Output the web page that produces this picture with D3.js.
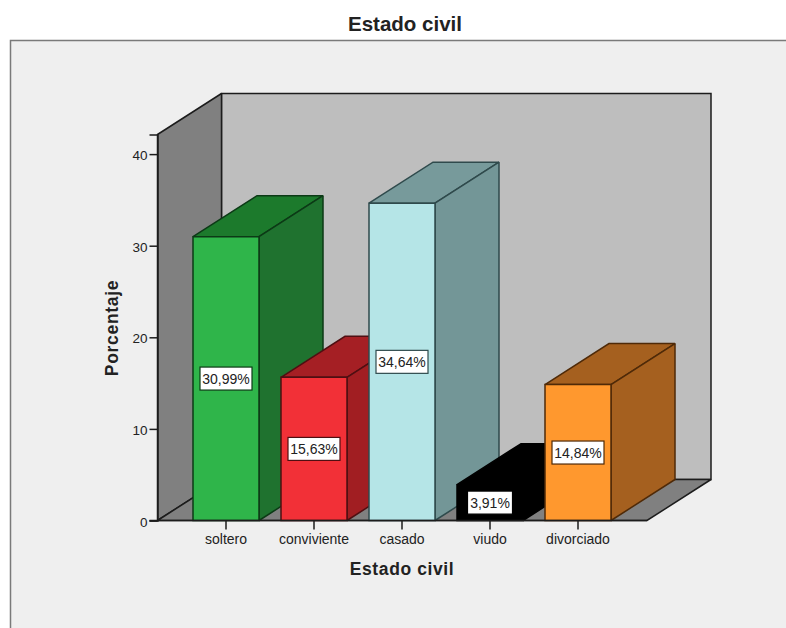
<!DOCTYPE html>
<html>
<head>
<meta charset="utf-8">
<script src="https://cdn.jsdelivr.net/npm/d3@7/dist/d3.min.js"></script>
<style>
html, body { margin: 0; padding: 0; background: #fff; }
svg { display: block; }
text { font-family: "Liberation Sans", Arial, sans-serif; fill: #222; }
</style>
</head>
<body>
<svg id="chart" width="786" height="628"></svg>
<script>
// Values
const categories = ["soltero", "conviviente", "casado", "viudo", "divorciado"];
const percentages = [30.99, 15.63, 34.64, 3.91, 14.84];
const valueLabels = ["30,99%", "15,63%", "34,64%", "3,91%", "14,84%"];
const yTicks = [0, 10, 20, 30, 40];

// Face colours for each bar
const frontColors = ["#2fb54a", "#f23037", "#b5e5e7", "#000000", "#ff982e"];
const topColors = ["#1c7a2c", "#a51f24", "#779a9b", "#000000", "#a5601f"];
const sideColors = ["#1f722f", "#a11e22", "#739697", "#000000", "#a5601f"];
const edgeColors = ["#0c3a16", "#4f0f12", "#2f4a4c", "#000000", "#4f2a08"];

const svg = d3.select("#chart");
const W = 786, H = 628;

// Oblique projection of the box: depth shifts right and up
const depth = { dx: 64, dy: -41 };
const plot = { left: 157.5, right: 647, base: 520.5, top: 134.5 };

const x = d3.scaleBand().domain(categories).range([182, 622])
  .paddingInner(0.25).paddingOuter(0.125);
const y = d3.scaleLinear().domain([0, 42.14]).range([plot.base, plot.top]);

const poly = (pts, fill, stroke, sw = 1.5) => svg.append("polygon")
  .attr("points", pts.map(p => p.join(",")).join(" "))
  .attr("fill", fill).attr("stroke", stroke)
  .attr("stroke-width", sw).attr("stroke-linejoin", "miter").attr("stroke-miterlimit", 2);

// Panel
svg.append("rect").attr("width", W).attr("height", H).attr("fill", "#fff");
svg.append("rect").attr("x", 10).attr("y", 40).attr("width", W - 10).attr("height", H - 40)
  .attr("fill", "#efefef");
svg.append("path").attr("d", `M10.5,${H}V40.5H${W}`)
  .attr("fill", "none").attr("stroke", "#7a7a7a").attr("stroke-width", 1.5);

// Box walls and floor
const { left: L, right: R, base: B, top: T } = plot;
const { dx, dy } = depth;
poly([[L + dx, T + dy], [R + dx, T + dy], [R + dx, B + dy], [L + dx, B + dy]], "#bebebe", "#1c1c1c");
poly([[L, T], [L + dx, T + dy], [L + dx, B + dy], [L, B]], "#808080", "#1c1c1c");
poly([[L, B], [L + dx, B + dy], [R + dx, B + dy], [R, B]], "#808080", "#1c1c1c");

// Bars, drawn left to right so nearer faces overlap correctly
categories.forEach((c, i) => {
  const x0 = x(c), x1 = x0 + x.bandwidth(), yt = y(percentages[i]);
  poly([[x0, yt], [x0 + dx, yt + dy], [x1 + dx, yt + dy], [x1, yt]], topColors[i], edgeColors[i]);
  poly([[x1, yt], [x1 + dx, yt + dy], [x1 + dx, B + dy], [x1, B]], sideColors[i], edgeColors[i]);
  poly([[x0, yt], [x1, yt], [x1, B], [x0, B]], frontColors[i], edgeColors[i]);
});

// Axes
const yAxis = svg.append("g").attr("transform", `translate(${L},0)`)
  .call(d3.axisLeft(y).tickValues(yTicks).tickSize(8).tickPadding(2));
yAxis.select(".domain").attr("stroke", "#1c1c1c").attr("stroke-width", 1.5);
yAxis.selectAll(".tick line").attr("stroke", "#1c1c1c").attr("stroke-width", 1.5);
yAxis.selectAll("text").attr("font-size", 13.5).attr("dy", "0.42em")
  .attr("font-family", '"Liberation Sans", Arial, sans-serif');

const xAxis = svg.append("g").attr("transform", `translate(0,${B})`)
  .call(d3.axisBottom(x).tickSize(9).tickPadding(5));
xAxis.select(".domain").remove();
xAxis.selectAll(".tick line").attr("stroke", "#1c1c1c").attr("stroke-width", 1.5);
xAxis.selectAll("text").attr("font-size", 14).attr("font-family", '"Liberation Sans", Arial, sans-serif');
svg.append("line").attr("x1", L - 8).attr("x2", R).attr("y1", B).attr("y2", B)
  .attr("stroke", "#1c1c1c").attr("stroke-width", 1.5);

// Value labels at the middle of each bar's front face
const labelGroups = svg.append("g").selectAll("g").data(categories).join("g")
  .attr("transform", (c, i) =>
    `translate(${x(c) + x.bandwidth() / 2},${(y(percentages[i]) + B) / 2})`);
labelGroups.append("text")
  .attr("text-anchor", "middle").attr("dy", "0.36em").attr("font-size", 14)
  .text((c, i) => valueLabels[i]);
labelGroups.each(function (c, i) {
  const g = d3.select(this), b = g.select("text").node().getBBox();
  const w = Math.round(b.width) + 5;
  g.insert("rect", "text")
    .attr("x", -w / 2).attr("y", -11.5).attr("width", w).attr("height", 23)
    .attr("fill", "#fff").attr("stroke", edgeColors[i]).attr("stroke-width", 1.2);
});

// Titles
svg.append("text").attr("x", 405).attr("y", 31).attr("text-anchor", "middle")
  .attr("font-size", 20.5).attr("font-weight", "bold").attr("fill", "#111").text("Estado civil");
svg.append("text").attr("x", 402).attr("y", 575).attr("text-anchor", "middle")
  .attr("font-size", 17.5).attr("font-weight", "bold").attr("letter-spacing", 0.6)
  .attr("fill", "#111").text("Estado civil");
svg.append("text").attr("transform", "translate(118,328) rotate(-90)").attr("text-anchor", "middle")
  .attr("font-size", 17.5).attr("font-weight", "bold").attr("letter-spacing", 0.7)
  .attr("fill", "#111").text("Porcentaje");
</script>
</body>
</html>
